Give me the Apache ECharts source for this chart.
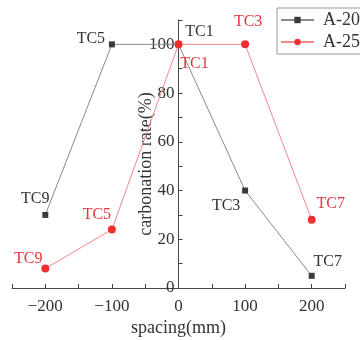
<!DOCTYPE html>
<html><head><meta charset="utf-8">
<script src="https://cdn.jsdelivr.net/npm/echarts@6/dist/echarts.min.js"></script>
<style>html,body{margin:0;padding:0;background:#fff}#c{width:360px;height:340px}</style>
</head><body><div id="c"></div>
<script>
var spacing = [-200, -100, 0, 100, 200];
var pointNames = ['TC9', 'TC5', 'TC1', 'TC3', 'TC7'];
var a20 = [30, 100, 100, 40, 5];
var a25 = [8, 24, 100, 100, 28];
var xTicks = [-200, -100, 0, 100, 200];
var yTicks = [0, 20, 40, 60, 80, 100];

var off20 = [[-10, -16], [-21, -6], [21, -13], [-19, 15], [16, -14]];
var off25 = [[-17, -10], [-15, -15], [16, 19], [3, -23], [19, -16]];
var FONT = 'Liberation Serif';
var GL = 12, GR = 15, W = 360;

function build(vals, offs, color) {
  return vals.map(function (v, i) {
    return {
      value: [spacing[i], v],
      label: { show: true, position: 'inside', offset: offs[i], formatter: pointNames[i],
               color: color, fontSize: 16, fontFamily: FONT }
    };
  });
}

var chart = echarts.init(document.getElementById('c'), null, { renderer: 'canvas' });
chart.setOption({
  animation: false,
  backgroundColor: '#fff',
  grid: { left: GL, right: GR, top: 20, bottom: 52, containLabel: false, outerBoundsMode: 'none' },
  legend: {
    orient: 'vertical', left: 277, top: 8,
    padding: [3, 20, 3, 3], itemGap: 4, itemWidth: 33, itemHeight: 8,
    borderColor: '#999', borderWidth: 1,
    textStyle: { fontSize: 18, fontFamily: FONT, color: '#333', padding: [0, 0, 0, 4] },
    data: ['A-20', 'A-25']
  },
  xAxis: {
    type: 'value', min: -250, max: 250, interval: 50,
    name: 'spacing(mm)', nameLocation: 'middle', nameGap: 31, nameMoveOverlap: false,
    nameTextStyle: { fontSize: 18, fontFamily: FONT, color: '#333' },
    axisLine: { onZero: false, lineStyle: { color: '#444', width: 1 } },
    axisTick: { inside: true, length: 4, lineStyle: { color: '#444' } },
    axisLabel: {
      fontSize: 17, fontFamily: FONT, color: '#333', margin: 10,
      formatter: function (v) { return xTicks.indexOf(v) >= 0 ? String(v).replace('-', '\u2212') : ''; }
    },
    splitLine: { show: false }
  },
  yAxis: {
    type: 'value', min: 0, max: 110, interval: 10,
    offset: -(W - GL - GR) / 2,
    name: 'carbonation rate(%)', nameLocation: 'middle', nameGap: 23, nameMoveOverlap: false,
    nameTextStyle: { fontSize: 18, fontFamily: FONT, color: '#333', padding: [0, 20, 0, 0] },
    axisLine: { onZero: false, lineStyle: { color: '#444', width: 1 } },
    axisTick: { inside: true, length: 4, lineStyle: { color: '#444' } },
    axisLabel: {
      fontSize: 17, fontFamily: FONT, color: '#333', margin: 4,
      formatter: function (v) { return yTicks.indexOf(v) >= 0 ? String(v) : ''; }
    },
    splitLine: { show: false }
  },
  series: [
    {
      name: 'A-20', type: 'line', data: build(a20, off20, '#333'),
      symbol: 'rect', symbolSize: 6,
      itemStyle: { color: '#3a3a3a' },
      lineStyle: { color: '#8a8a8a', width: 1 }
    },
    {
      name: 'A-25', type: 'line', data: build(a25, off25, '#e8343c'),
      symbol: 'circle', symbolSize: 8,
      itemStyle: { color: '#f03030' },
      lineStyle: { color: '#f08a8a', width: 1 }
    }
  ]
});
</script></body></html>
